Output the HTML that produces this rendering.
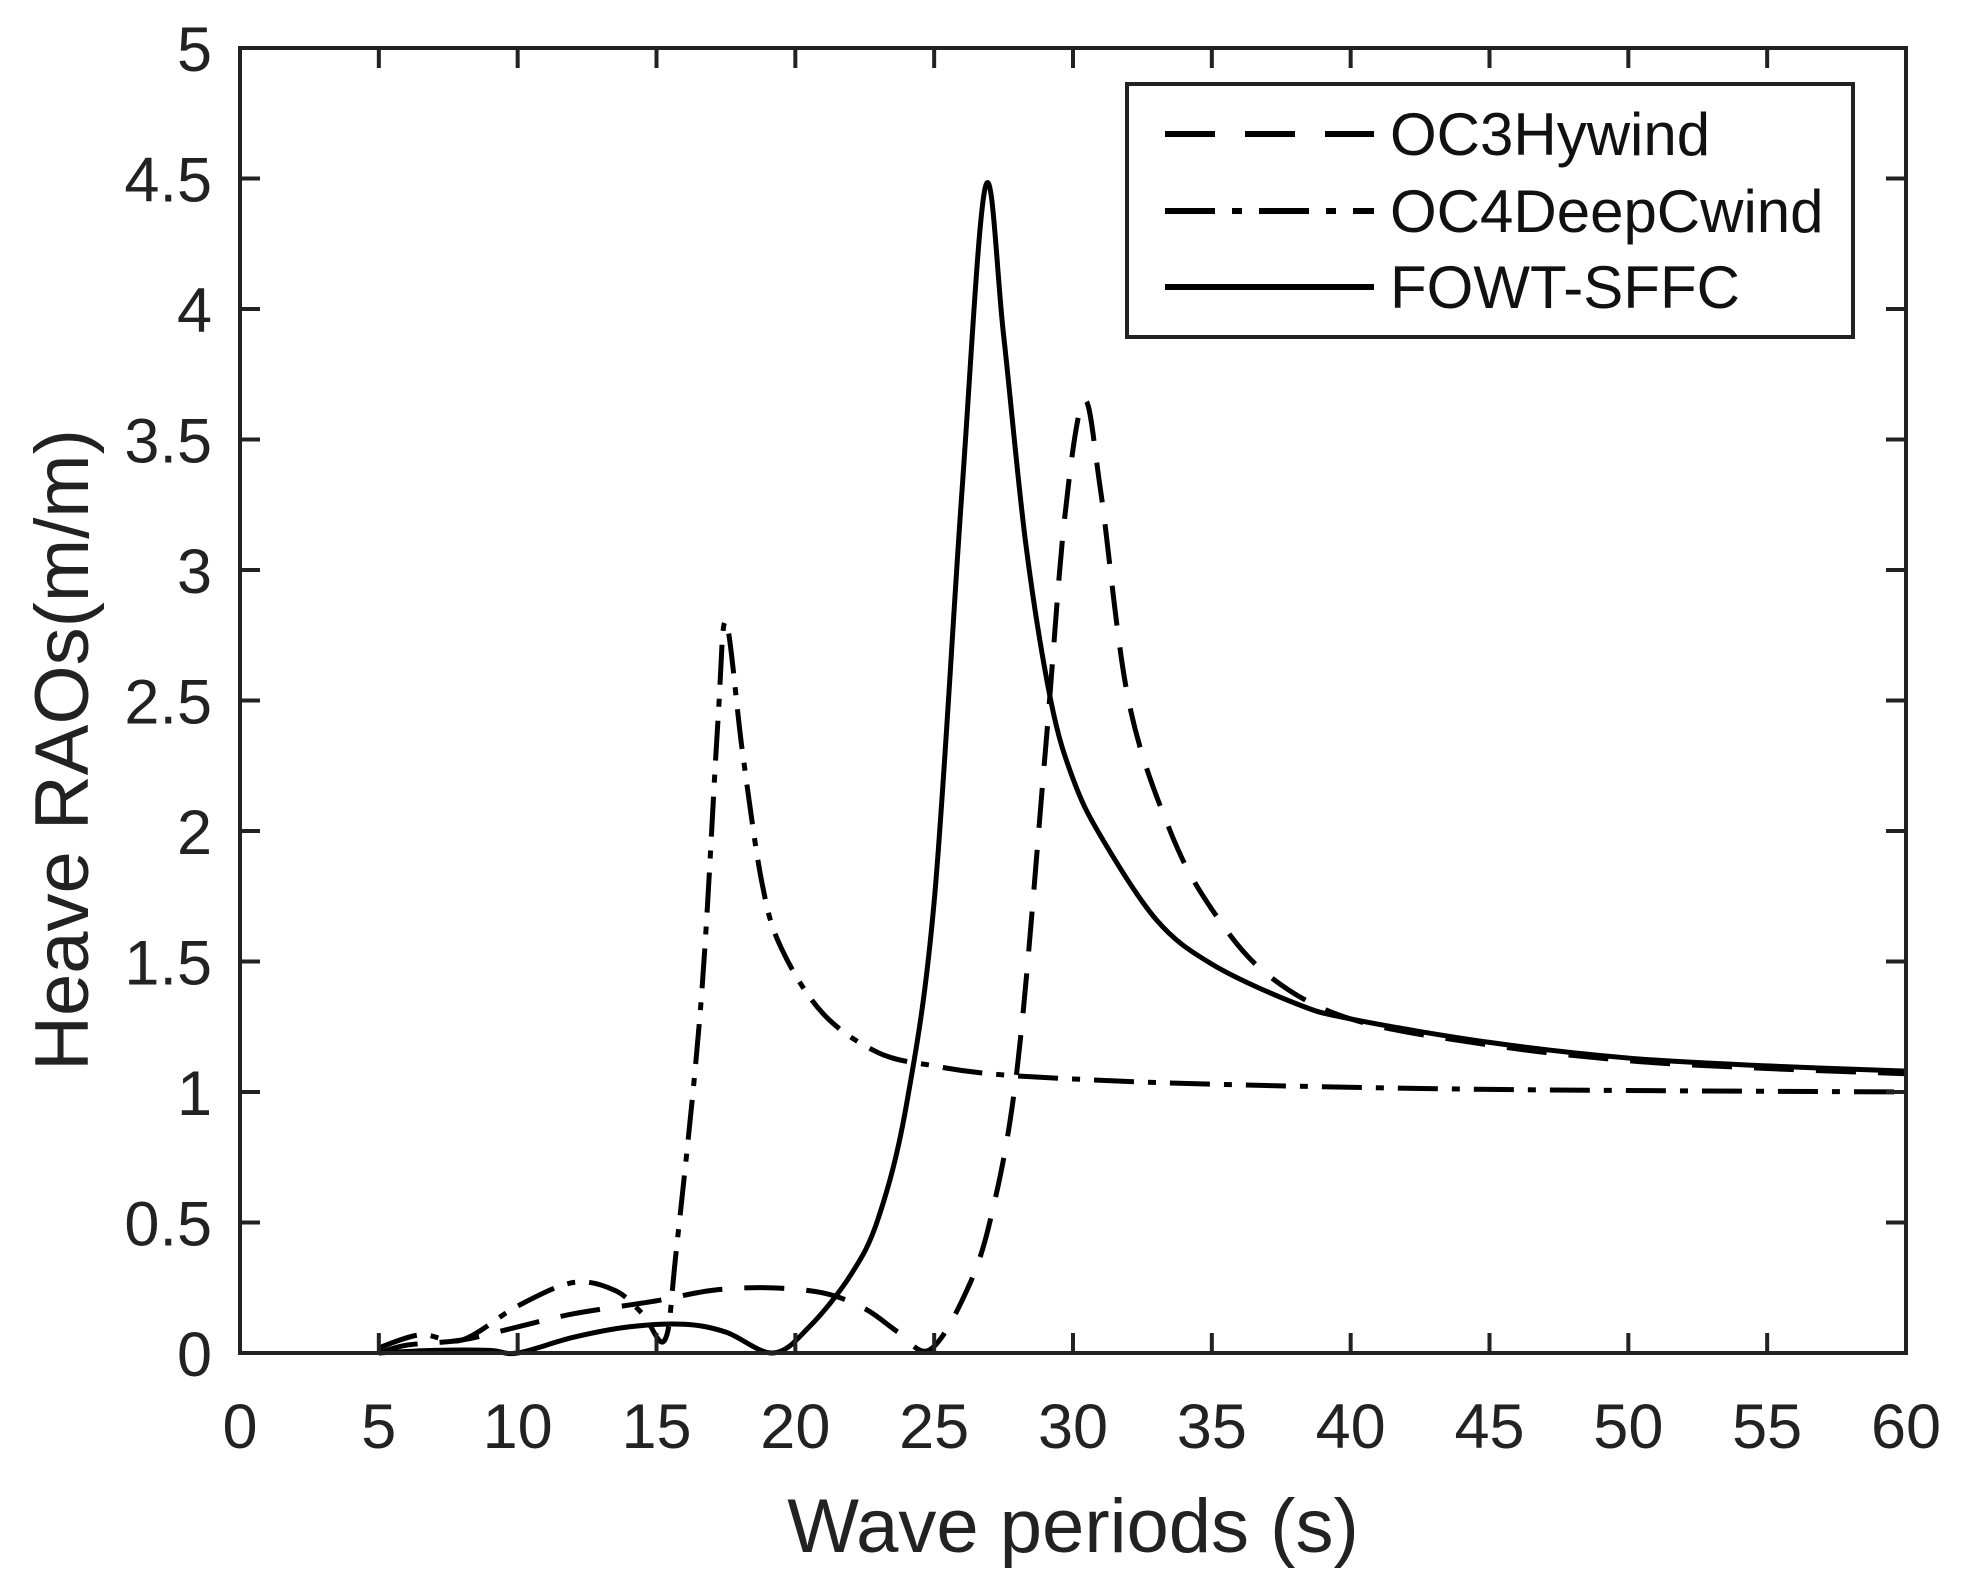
<!DOCTYPE html>
<html><head><meta charset="utf-8"><style>
html,body{margin:0;padding:0;background:#fff;}
svg{display:block;font-family:"Liberation Sans",Arial,sans-serif;}
</style></head><body>
<svg id="s" width="1964" height="1582" viewBox="0 0 1964 1582" xmlns="http://www.w3.org/2000/svg">
<rect x="0" y="0" width="1964" height="1582" fill="#fff"/>
<g id="curves" fill="none" stroke="#000" stroke-width="5" stroke-linejoin="round"></g>
<rect x="240" y="48" width="1666" height="1305" fill="none" stroke="#222" stroke-width="4"/>
<g id="ticks" stroke="#222" stroke-width="4"></g>
<g id="labels" fill="#222" font-size="63"></g>
<text x="1073" y="1552" font-size="76" fill="#222" text-anchor="middle">Wave periods (s)</text>
<text transform="translate(88,750) rotate(-90)" font-size="76" fill="#222" text-anchor="middle">Heave RAOs(m/m)</text>
<rect x="1127" y="84" width="726" height="253" fill="#fff" stroke="#222" stroke-width="4"/>
<line x1="1165" y1="134" x2="1374" y2="134" stroke="#000" stroke-width="6" stroke-dasharray="50,30"/>
<line x1="1165" y1="211" x2="1374" y2="211" stroke="#000" stroke-width="6" stroke-dasharray="50,17,10,17"/>
<line x1="1165" y1="287" x2="1374" y2="287" stroke="#000" stroke-width="6"/>
<g font-size="60" fill="#111">
<text x="1390" y="155">OC3Hywind</text>
<text x="1390" y="232">OC4DeepCwind</text>
<text x="1390" y="308">FOWT-SFFC</text>
</g>
</svg>
<script>
const X=t=>240+t*1666/60, Y=v=>1353-v*261;
const tk=document.getElementById('ticks'), lb=document.getElementById('labels');
for(let t=0;t<=60;t+=5){const x=X(t);
 tk.innerHTML+=`<line x1="${x}" y1="1353" x2="${x}" y2="1333"/><line x1="${x}" y1="48" x2="${x}" y2="68"/>`;
 lb.innerHTML+=`<text x="${x}" y="1448" text-anchor="middle">${t}</text>`;}
for(let i=0;i<=10;i++){const v=i/2,y=Y(v);
 tk.innerHTML+=`<line x1="240" y1="${y}" x2="260" y2="${y}"/><line x1="1906" y1="${y}" x2="1886" y2="${y}"/>`;
 lb.innerHTML+=`<text x="212" y="${y+23}" text-anchor="end">${v}</text>`;}
function path(pts){
 const p=pts.map(a=>[X(a[0]),Y(a[1])]);let d=`M${p[0][0]},${p[0][1]}`;
 for(let i=0;i<p.length-1;i++){const p0=p[i-1]||p[i],p1=p[i],p2=p[i+1],p3=p[i+2]||p2;
  const c1=[p1[0]+(p2[0]-p0[0])/6,p1[1]+(p2[1]-p0[1])/6],c2=[p2[0]-(p3[0]-p1[0])/6,p2[1]-(p3[1]-p1[1])/6];
  d+=`C${c1[0]},${c1[1]} ${c2[0]},${c2[1]} ${p2[0]},${p2[1]}`;}
 return d;}
const fowt=[[5,0],[7,0.01],[9,0.01],[10,0.0],[12,0.06],[14,0.1],[16,0.11],[17.5,0.08],[19.2,0],[20.5,0.1],[22,0.3],[23,0.52],[24,0.95],[25,1.73],[26,3.3],[26.85,4.47],[27.5,3.9],[28.3,3.1],[29.2,2.5],[30,2.2],[31,1.98],[33,1.66],[35,1.49],[38,1.34],[40,1.28],[45,1.19],[50,1.13],[55,1.1],[60,1.08]];
const oc4=[[5,0.02],[6.5,0.07],[8,0.05],[10,0.18],[12,0.27],[13.5,0.24],[14.5,0.15],[15.3,0.05],[15.7,0.38],[16.6,1.34],[17.2,2.4],[17.5,2.8],[18.1,2.3],[18.8,1.8],[19.5,1.55],[21,1.3],[23,1.15],[25,1.1],[27,1.07],[30,1.05],[35,1.03],[45,1.01],[60,1.0]];
const oc3=[[5,0],[6,0.03],[8,0.05],[10,0.1],[12,0.15],[15,0.2],[17,0.24],[19,0.25],[21,0.23],[22.5,0.17],[23.7,0.08],[24.8,0.01],[26,0.2],[27,0.5],[28,1.1],[29,2.3],[29.7,3.2],[30.4,3.65],[31,3.3],[32,2.5],[33.5,2.0],[35,1.7],[37,1.45],[40,1.28],[45,1.18],[50,1.12],[55,1.09],[60,1.07]];
const g=document.getElementById('curves');
g.innerHTML=`<path d="${path(oc3)}" stroke-dasharray="40,22"/><path d="${path(oc4)}" stroke-dasharray="40,14,8,14"/><path d="${path(fowt)}"/>`;
</script>
</body></html>
